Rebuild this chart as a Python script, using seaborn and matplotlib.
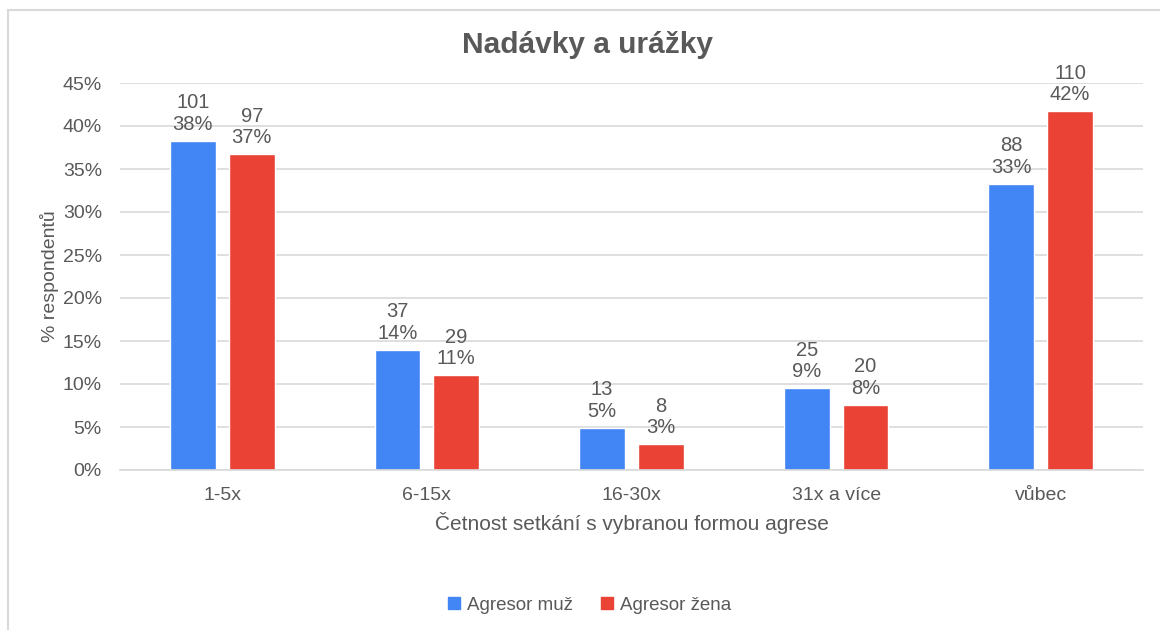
import matplotlib
matplotlib.use("Agg")
import matplotlib.pyplot as plt
import seaborn as sns
import pandas as pd
from matplotlib.patches import Rectangle
from matplotlib.lines import Line2D

categories = ["1-5x", "6-15x", "16-30x", "31x a více", "vůbec"]
series_names = ["Agresor muž", "Agresor žena"]
counts_muz = [101, 37, 13, 25, 88]
counts_zena = [97, 29, 8, 20, 110]
pct_muz = [38.3, 14.0, 4.9, 9.5, 33.3]
pct_zena = [36.7, 11.0, 3.0, 7.6, 41.7]
pct_labels_muz = ["38%", "14%", "5%", "9%", "33%"]
pct_labels_zena = ["37%", "11%", "3%", "8%", "42%"]
yticks = [0, 5, 10, 15, 20, 25, 30, 35, 40, 45]

colors = ["#4285F4", "#EA4335"]
text_color = "#595959"
grid_color = "#D9D9D9"

df = pd.DataFrame({
    "cat": categories * 2,
    "series": [series_names[0]] * 5 + [series_names[1]] * 5,
    "pct": pct_muz + pct_zena,
})

sns.set_theme(style="white")
plt.rcParams["font.family"] = ["Liberation Sans", "DejaVu Sans"]

fig = plt.figure(figsize=(11.6, 6.3), dpi=100)
ax = fig.add_axes([120 / 1160, 1 - 470 / 630, (1143 - 120) / 1160, (470 - 83) / 630])

sns.barplot(data=df, x="cat", y="pct", hue="series", order=categories,
            hue_order=series_names, palette=colors, width=0.576, gap=0.222,
            saturation=1, ax=ax, legend=False)

ax.set_xlim(-0.5, 4.5)
ax.set_ylim(0, 45)
ax.set_yticks(yticks)
ax.set_yticklabels([f"{t}%" for t in yticks])
ax.yaxis.grid(True, color=grid_color, linewidth=1.2)
ax.set_axisbelow(True)
for s in ["left", "right", "top"]:
    ax.spines[s].set_visible(False)
ax.spines["bottom"].set_color(grid_color)
ax.spines["bottom"].set_linewidth(1.2)
ax.tick_params(axis="both", length=0, labelsize=14, labelcolor=text_color)
ax.tick_params(axis="y", pad=13)
ax.tick_params(axis="x", pad=12)

ax.set_xlabel("Četnost setkání s vybranou formou agrese", fontsize=15, color=text_color, labelpad=6)
ax.set_ylabel("% respondentů", fontsize=14, color=text_color, labelpad=3)

# Data labels
containers = ax.containers
all_counts = [counts_muz, counts_zena]
all_pct = [pct_labels_muz, pct_labels_zena]
for ci, cont in enumerate(containers):
    for bi, bar in enumerate(cont):
        x = bar.get_x() + bar.get_width() / 2
        y = bar.get_height()
        ax.annotate(f"{all_counts[ci][bi]}\n{all_pct[ci][bi]}", (x, y),
                    xytext=(0, 5), textcoords="offset points",
                    ha="center", va="bottom", fontsize=14.5, color=text_color,
                    linespacing=1.18, annotation_clip=False)

fig.text(587 / 1160, 1 - 45 / 630, "Nadávky a urážky", ha="center", va="center",
         fontsize=21.5, fontweight="bold", color=text_color)

# Outer chart frame
fig.patches.append(Rectangle((8 / 1160, -0.1), 1.2, 1 - 10 / 630 + 0.1,
                             transform=fig.transFigure, fill=False,
                             edgecolor="#D9D9D9", linewidth=1.5))

handles = [Line2D([0], [0], marker="s", linestyle="none", markersize=8,
                  markerfacecolor=c, markeredgecolor=c) for c in colors]
fig.legend(handles, series_names, loc="center", bbox_to_anchor=(588 / 1160, 1 - 605 / 630),
           ncol=2, frameon=False, fontsize=13.5, labelcolor=text_color,
           handletextpad=0.2, columnspacing=1.3, handlelength=1.0)

fig.savefig("out.png", dpi=100, facecolor="white")
